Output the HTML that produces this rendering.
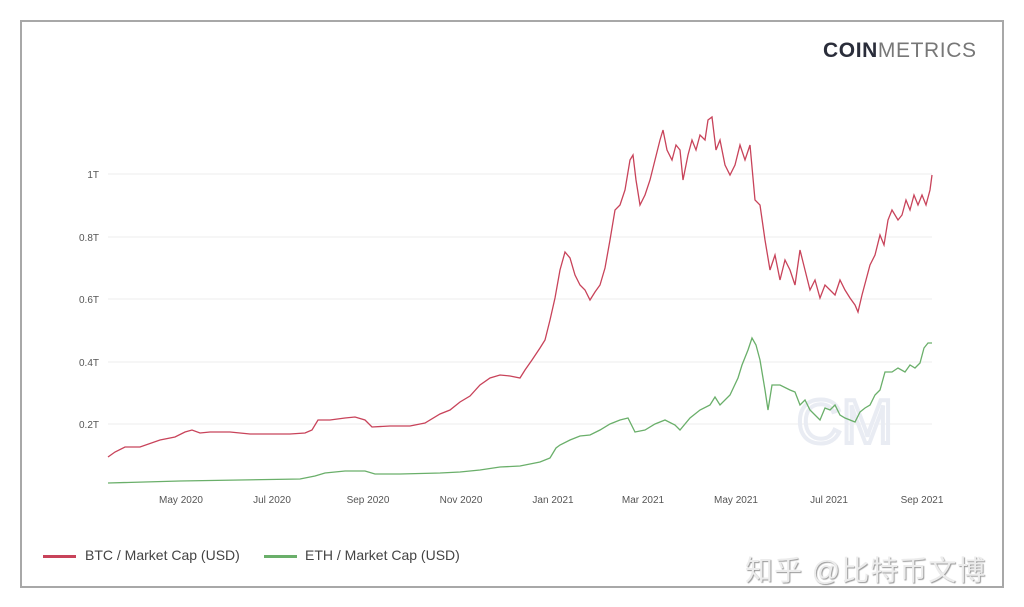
<!DOCTYPE html>
<html><head><meta charset="utf-8"><style>
body{margin:0;width:1024px;height:607px;background:#fff;position:relative;overflow:hidden;font-family:"Liberation Sans",sans-serif}
.frame{position:absolute;left:20px;top:20px;width:980px;height:564px;border:2px solid #a8a8a8}
.logo{position:absolute;left:823px;top:39px;font-size:21px;letter-spacing:0.6px;color:#777}
.logo b{color:#2a2d3a}
.wm{position:absolute;left:745px;top:549px;font-family:"Liberation Sans","Noto Sans CJK SC",sans-serif;font-size:28px;color:#ececec;text-shadow:1px 1px 1px #999;letter-spacing:1px}
.leg{position:absolute;top:547px;font-size:14px;color:#444}
.ln{position:absolute;top:555px;width:33px;height:3px}
</style></head><body>
<div class="frame"></div>
<div class="logo"><b>COIN</b>METRICS</div>
<svg width="1024" height="607" style="position:absolute;left:0;top:0">
<g stroke="#ececec" stroke-width="1">
<line x1="108" x2="932" y1="174" y2="174"/><line x1="108" x2="932" y1="237" y2="237"/>
<line x1="108" x2="932" y1="299" y2="299"/><line x1="108" x2="932" y1="362" y2="362"/>
<line x1="108" x2="932" y1="424" y2="424"/></g>
<g font-size="10" fill="#555" text-anchor="end" font-family="Liberation Sans,sans-serif">
<text x="99" y="178">1T</text><text x="99" y="241">0.8T</text><text x="99" y="303">0.6T</text><text x="99" y="366">0.4T</text><text x="99" y="428">0.2T</text></g>
<g font-size="10" fill="#555" text-anchor="middle" font-family="Liberation Sans,sans-serif">
<text x="181" y="503">May 2020</text><text x="272" y="503">Jul 2020</text><text x="368" y="503">Sep 2020</text><text x="461" y="503">Nov 2020</text><text x="553" y="503">Jan 2021</text><text x="643" y="503">Mar 2021</text><text x="736" y="503">May 2021</text><text x="829" y="503">Jul 2021</text><text x="922" y="503">Sep 2021</text></g>
<text x="845" y="443" font-size="62" fill="none" stroke="#e9ecf3" stroke-width="4" text-anchor="middle" font-family="Liberation Sans,sans-serif">CM</text>
<polyline fill="none" stroke="#c8435a" stroke-width="1.3" points="108,457 115,452 125,447 140,447 160,440 175,437 185,432 192,430 200,433 210,432 230,432 250,434 270,434 290,434 305,433 312,430 318,420 330,420 345,418 355,417 365,420 372,427 390,426 410,426 425,423 440,414 450,410 460,402 470,396 480,385 490,378 500,375 510,376 520,378 525,370 532,360 540,348 545,340 550,320 555,298 560,270 565,252 570,258 575,275 580,285 585,290 590,300 595,292 600,285 605,268 610,240 615,210 620,205 625,190 630,160 633,155 636,180 640,205 645,195 650,180 655,160 660,140 663,130 667,150 672,160 676,145 680,150 683,180 688,155 692,140 696,150 700,135 705,140 708,120 712,117 716,150 720,140 725,165 730,175 735,165 740,145 745,160 750,145 755,200 760,205 765,240 770,270 775,255 780,280 785,260 790,270 795,285 800,250 805,270 810,290 815,280 820,298 825,285 830,290 835,295 840,280 845,290 850,298 855,305 858,312 862,295 866,280 870,265 875,255 880,235 884,245 888,220 892,210 898,220 902,215 906,200 910,210 914,195 918,205 922,195 926,205 930,190 932,175"/>
<polyline fill="none" stroke="#6aaf6a" stroke-width="1.3" points="108,483 180,481 300,479 315,476 325,473 345,471 365,471 375,474 400,474 440,473 460,472 480,470 500,467 520,466 540,462 550,458 556,448 560,445 570,440 580,436 590,435 600,430 610,424 620,420 628,418 635,432 645,430 655,424 665,420 675,425 680,430 690,418 700,410 710,405 715,397 720,405 730,395 738,378 742,365 748,350 752,338 756,345 760,360 765,390 768,410 772,385 780,385 790,390 795,392 800,405 805,400 810,410 815,415 820,420 825,408 830,410 835,405 840,415 845,418 850,420 855,422 860,412 865,408 870,405 875,395 880,390 885,372 892,372 898,368 905,372 910,365 915,368 920,363 924,348 928,343 932,343"/>
</svg>
<div class="ln" style="left:43px;background:#c8435a"></div>
<div class="leg" style="left:85px">BTC / Market Cap (USD)</div>
<div class="ln" style="left:264px;background:#6aaf6a"></div>
<div class="leg" style="left:305px">ETH / Market Cap (USD)</div>
<div class="wm">知乎 @比特币文博</div>
</body></html>
